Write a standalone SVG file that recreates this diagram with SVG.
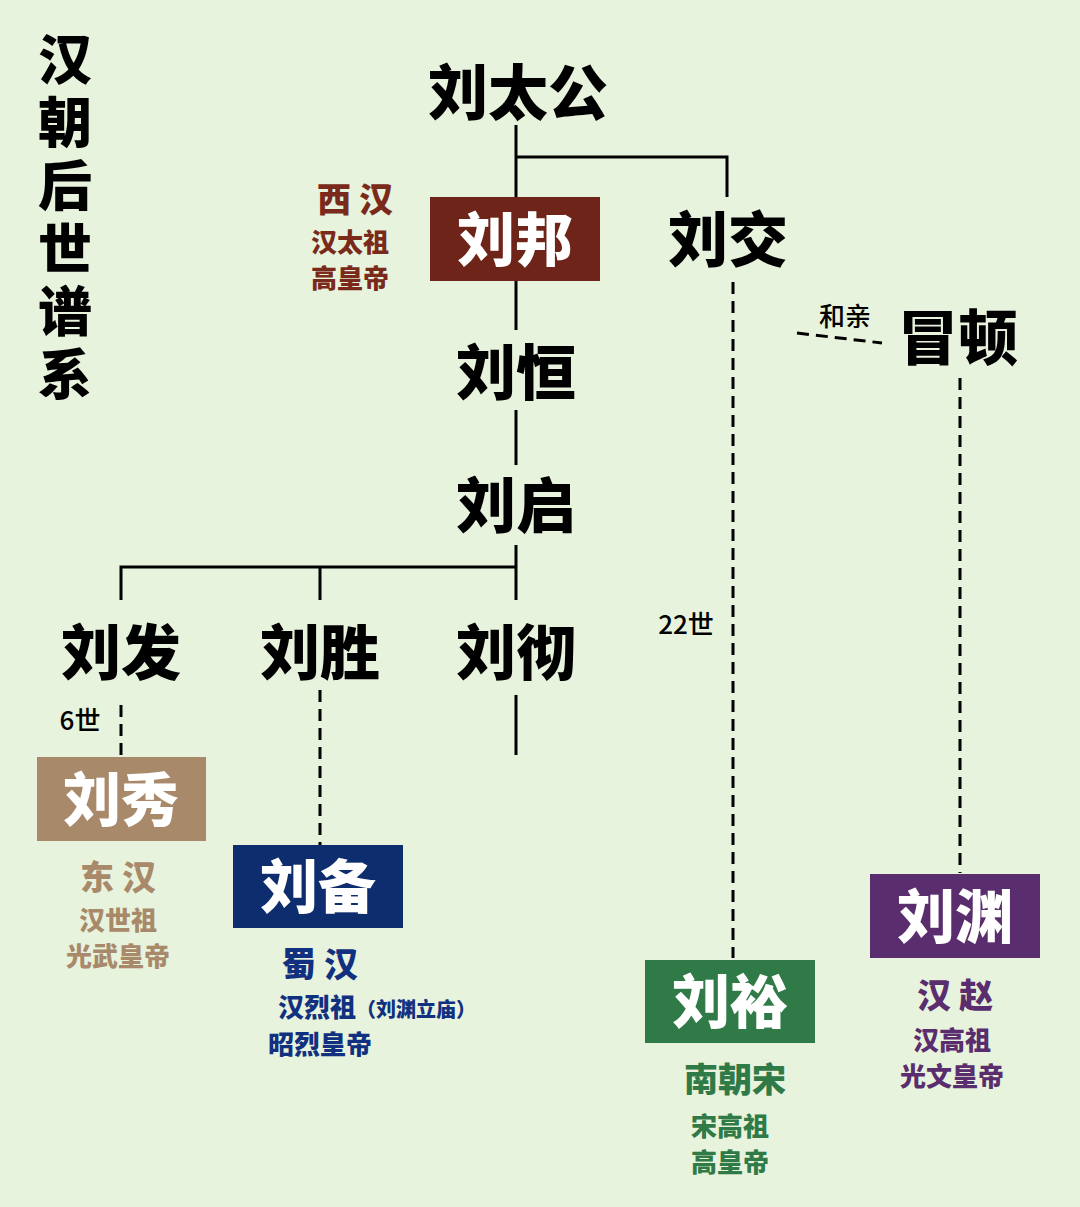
<svg xmlns="http://www.w3.org/2000/svg" width="1080" height="1207" viewBox="0 0 1080 1207">
<style>
text{font-family:"Noto Sans CJK SC","Noto Sans",sans-serif;text-anchor:middle;font-weight:900}
.n{font-size:60px;fill:#000}
.b{font-size:58px;fill:#fff}
.s{stroke:#000;stroke-width:3;fill:none}
.d{stroke:#000;stroke-width:3;fill:none;stroke-dasharray:12 7}
.t1{font-size:34px}
.t2{font-size:26px}
.ti{font-size:54px}
</style>
<rect width="1080" height="1207" fill="#e7f3dc"/>
<g id="title">
<text class="ti" x="65" y="80">汉</text><text class="ti" x="65" y="143">朝</text><text class="ti" x="65" y="206">后</text><text class="ti" x="65" y="269">世</text><text class="ti" x="65" y="332">谱</text><text class="ti" x="65" y="395">系</text></g>
<g id="connectors">
<path class="s" d="M516 125V197M516 157H727V197M516 281V330M516 410V465M516 545V600M121 600V567H516M320 567V600M516 695V755"/>
<path class="d" d="M733 282V958M121 705V757M320 690V845M960 378V873M797 333L882 343"/>
</g>
<g id="liutaigong"><text class="n" x="518" y="115">刘太公</text></g>
<g id="liubang"><rect x="430" y="197" width="170" height="84" fill="#6e2418"/><text class="b" x="515" y="261">刘邦</text>
<text class="t1" x="355" y="212" fill="#7a2a1a">西 汉</text><text class="t2" x="350" y="252" fill="#7a2a1a">汉太祖</text><text class="t2" x="350" y="288" fill="#7a2a1a">高皇帝</text></g>
<g id="liujiao"><text class="n" x="728" y="262">刘交</text></g>
<g id="liuheng"><text class="n" x="516" y="395">刘恒</text></g>
<g id="liuqi"><text class="n" x="516" y="528">刘启</text></g>
<g id="liufa"><text class="n" x="121" y="675">刘发</text><text class="t2" x="80" y="730" style="font-weight:500">6世</text></g>
<g id="liusheng"><text class="n" x="320" y="675">刘胜</text></g>
<g id="liuche"><text class="n" x="516" y="675">刘彻</text></g>
<g id="liuxiu"><rect x="37" y="757" width="169" height="84" fill="#a88a6b"/><text class="b" x="121" y="821">刘秀</text>
<text class="t1" x="118" y="890" fill="#a88a6b">东 汉</text><text class="t2" x="118" y="930" fill="#a88a6b">汉世祖</text><text class="t2" x="118" y="966" fill="#a88a6b">光武皇帝</text></g>
<g id="liubei"><rect x="233" y="845" width="170" height="83" fill="#0d2d6e"/><text class="b" x="318" y="908">刘备</text>
<text class="t1" x="320" y="977" fill="#123080">蜀 汉</text><text x="278" y="1017" fill="#123080" style="text-anchor:start"><tspan class="t2">汉烈祖</tspan><tspan style="font-size:20px">（刘渊立庙）</tspan></text><text class="t2" x="320" y="1054" fill="#123080">昭烈皇帝</text></g>
<g id="liuyu"><text x="686" y="634" style="font-size:26px;font-weight:500">22世</text><rect x="645" y="960" width="170" height="83" fill="#2f7a47"/><text class="b" x="730" y="1023">刘裕</text>
<text class="t1" x="735" y="1092" fill="#2f7a47">南朝宋</text><text class="t2" x="730" y="1136" fill="#2f7a47">宋高祖</text><text class="t2" x="730" y="1172" fill="#2f7a47">高皇帝</text></g>
<g id="maodun"><text x="845" y="326" style="font-size:26px;font-weight:500">和亲</text><text class="n" x="958" y="360">冒顿</text></g>
<g id="liuyuan"><rect x="870" y="874" width="170" height="84" fill="#5a2d6e"/><text class="b" x="955" y="938">刘渊</text>
<text class="t1" x="955" y="1008" fill="#5a2d6e">汉 赵</text><text class="t2" x="952" y="1050" fill="#5a2d6e">汉高祖</text><text class="t2" x="952" y="1086" fill="#5a2d6e">光文皇帝</text></g>
</svg>
